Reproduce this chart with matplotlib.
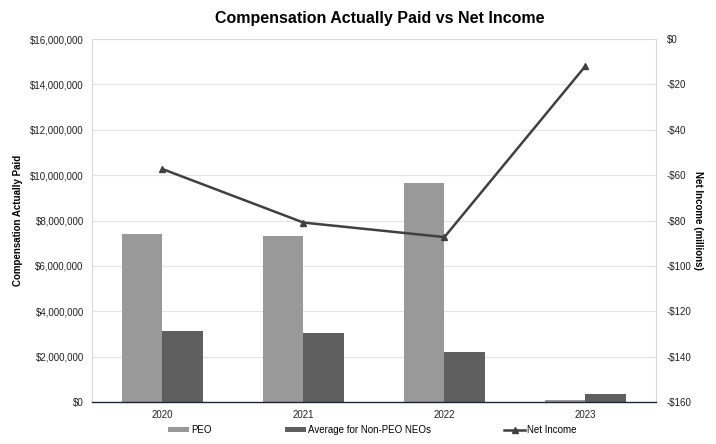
import matplotlib.pyplot as plt
import matplotlib.ticker as mticker
import numpy as np

plt.rcParams['font.family'] = ['Liberation Sans', 'DejaVu Sans']

anos = ['2020', '2021', '2022', '2023']
peo = [7400000, 7320000, 9650000, 90000]
media_nao_peo = [3130000, 3040000, 2200000, 350000]
lucro_liquido = [-57.3, -80.9, -87.3, -11.9]

fig = plt.figure(figsize=(7.16, 4.44), dpi=100)
ax = fig.add_axes([0.1285, 0.0946, 0.7875, 0.8174])

x = np.arange(len(anos))
largura = 0.285
ax.bar(x - largura / 2, peo, largura, color='#999999', label='PEO', zorder=2)
ax.bar(x + largura / 2, media_nao_peo, largura, color='#5f5f5f',
       label='Average for Non-PEO NEOs', zorder=2)

ax.set_xlim(-0.5, 3.5)
ax.set_ylim(0, 16000000)
ax.set_yticks(np.arange(0, 16000001, 2000000))
ax.yaxis.set_major_formatter(mticker.FuncFormatter(lambda v, p: f"${v:,.0f}"))
ax.set_xticks(x)
ax.set_xticklabels(anos)
ax.grid(axis='y', color='#e3e3e3', linewidth=0.8, zorder=0)
ax.tick_params(axis='both', length=0, labelsize=7, colors='#222222', pad=6)

for lado in ['top', 'right', 'left']:
    ax.spines[lado].set_color('#d9d9d9')
    ax.spines[lado].set_linewidth(0.8)
ax.spines['bottom'].set_color('#1f2340')
ax.spines['bottom'].set_linewidth(1.0)

ax.set_ylabel('Compensation Actually Paid', fontsize=7, fontweight='bold', labelpad=5)

ax2 = ax.twinx()
ax2.plot(x, lucro_liquido, color='#404040', linewidth=1.8, marker='^',
         markersize=5, label='Net Income', zorder=3)
ax2.set_ylim(-160, 0)
ax2.set_yticks(np.arange(-160, 1, 20))
ax2.yaxis.set_major_formatter(mticker.FuncFormatter(
    lambda v, p: "$0" if v == 0 else f"-${abs(v):.0f}"))
ax2.tick_params(axis='y', length=0, labelsize=7, colors='#222222', pad=8)
for lado in ['top', 'right', 'left', 'bottom']:
    ax2.spines[lado].set_visible(False)
ax2.set_ylabel('Net Income (millions)', fontsize=7, fontweight='bold',
               rotation=270, labelpad=8)

fig.suptitle('Compensation Actually Paid vs Net Income', fontsize=11.5,
             fontweight='bold', x=0.53, y=0.975)

h1, l1 = ax.get_legend_handles_labels()
h2, l2 = ax2.get_legend_handles_labels()
fig.legend(h1 + h2, l1 + l2, loc='center', bbox_to_anchor=(0.52, 0.032),
           ncol=3, frameon=False, fontsize=7, handlelength=2.2, handleheight=0.4,
           handletextpad=0.2, columnspacing=7.5)

plt.savefig('out.png', dpi=100)
